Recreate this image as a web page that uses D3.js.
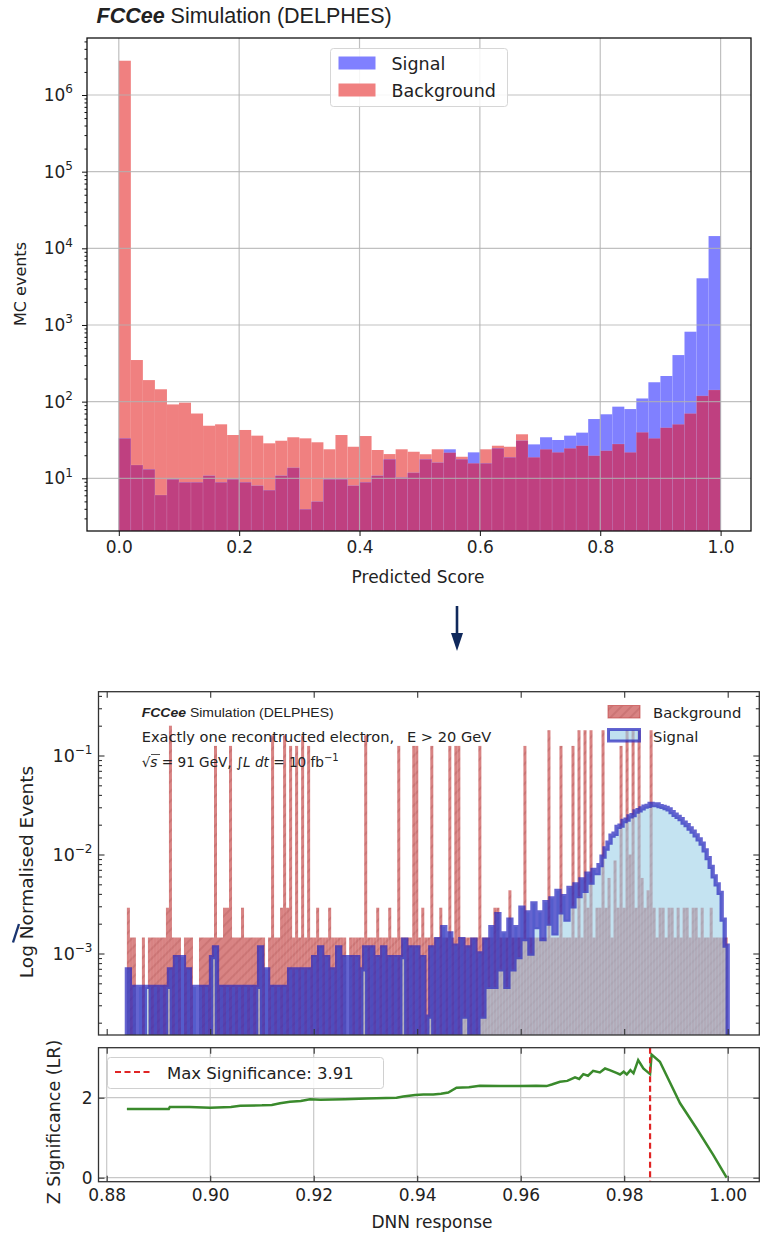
<!DOCTYPE html>
<html>
<head>
<meta charset="utf-8">
<script src="https://cdn.jsdelivr.net/npm/d3@7"></script>
<style>
  body { margin: 0; background: #fff; }
  text { font-family: "DejaVu Sans", sans-serif; fill: #222; }
</style>
</head>
<body>
<div id="chart"></div>
<script>
// ---------------- top plot : predicted score, 50 bins on [0,1] ----------------
var topBinCount = 50;
var topSignal = [33.2, 14.9, 13.1, 6.05, 9.7, 8.87, 8.87, 10.8, 8.87, 9.7,
                 8.87, 8.0, 7.0, 10.8, 13.7, 3.95, 4.96, 9.7, 9.7, 8.0,
                 8.87, 10.8, 17.7, 10.2, 11.8, 17.7, 16, 23.9, 17.7, 21.8,
                 15.7, 24.6, 18.8, 30.9, 27.7, 34.3, 31.6, 36, 39.4, 59.3,
                 68.4, 86, 80, 110, 179, 216, 405, 817, 4065, 14450];
var topBackground = [2.8e6, 349, 191, 145, 92, 97, 70, 48.5, 50.6, 36.7,
                     42.7, 36, 28.6, 30.9, 34.3, 33.2, 29.5, 23.9, 36.7, 25.8,
                     35.6, 23.4, 20.7, 23.9, 22.2, 20.6, 23.9, 21.6, 19.1, 15.7,
                     23.9, 26.6, 25.8, 37.5, 18.8, 23.9, 21.8, 24.6, 26.6, 19.7,
                     22.9, 28, 21.8, 39.8, 33.2, 45.7, 50.6, 70, 119, 142];
var topXTicks = [0, 0.2, 0.4, 0.6, 0.8, 1.0];
var topYTicks = [1e1, 1e2, 1e3, 1e4, 1e5, 1e6];

// ---------------- bottom plot : DNN response, 200 bins ----------------
var dnnRange = [0.8839, 1.0];
// values in units of 1e-3
var dnnSignal = [
  0.69, 0, 0.46, 0, 0.46, 0, 0.46, 0.46, 0, 0.46,
  0, 0.46, 0, 0.46, 0.69, 0, 0.92, 0, 0.92, 0,
  0.69, 0, 0.46, 0, 0.46, 0, 0.46, 0, 0.92, 1.15,
  0, 0.46, 0, 0.46, 0, 0.46, 0, 0.46, 0, 0.46,
  0, 0.46, 0, 0.46, 1.15, 0, 0.69, 0, 0.46, 0,
  0.46, 0, 0.46, 0, 0.69, 0, 0.69, 0, 0.69, 0,
  0.69, 0, 0.92, 0, 1.15, 0, 0.92, 0, 0.69, 0,
  1.15, 0, 0.92, 0, 0.92, 0, 0.92, 0, 0.69, 1.15,
  0, 1.15, 0, 0.92, 0, 1.15, 0, 0.92, 0, 0.92,
  0, 0.92, 1.38, 0, 1.15, 0, 1.15, 0, 0.92, 0,
  0.23, 1.15, 0, 1.4, 0, 1.85, 0, 1.6, 0, 1.2,
  0, 1.4, 0.23, 1.15, 0, 1.38, 0, 1.0, 0.23, 1.38,
  0.46, 1.85, 0.46, 2.5, 0.69, 1.6, 0.46, 2.2, 0.69, 1.85,
  0.92, 2.9, 1.4, 2.6, 1.0, 3.2, 1.85, 2.6, 1.4, 3.3,
  2.0, 3.6, 1.6, 4.3, 2.6, 3.8, 2.2, 4.6, 3.0, 5.0,
  3.8, 5.6, 4.3, 6.4, 5.2, 7.0, 6.5, 7.8, 9.5, 11.5,
  13.2, 15.5, 16.2, 19.0, 19.6, 21.8, 22.5, 24.3, 25.0, 27.2,
  28.0, 29.2, 30.5, 31.0, 32.5, 31.5, 32.0, 30.8, 30.3, 29.5,
  28.5, 26.8, 25.2, 24.0, 22.8, 21.0, 19.8, 18.3, 17.0, 15.6,
  14.2, 12.9, 11.0, 9.2, 7.5, 6.0, 5.0, 4.1, 2.2, 1.2
];
var dnnBackground = [
  2.9, 1.45, 1.45, 0, 0, 1.45, 0, 1.45, 1.45, 1.45,
  1.45, 1.45, 1.45, 2.9, 200, 1.45, 1.45, 1.45, 0, 1.45,
  1.45, 1.45, 0, 0, 1.45, 1.45, 1.45, 1.45, 1.45, 125,
  1.45, 1.45, 2.9, 2.9, 125, 1.45, 1.45, 1.45, 2.9, 1.45,
  1.45, 1.45, 1.45, 1.45, 1.45, 1.45, 0, 1.45, 160, 1.45,
  1.45, 2.9, 160, 2.9, 125, 1.45, 125, 1.45, 160, 1.45,
  125, 1.45, 1.45, 2.9, 1.45, 1.45, 1.45, 2.9, 1.45, 1.45,
  1.45, 1.45, 1.45, 0, 1.45, 1.45, 1.45, 1.45, 1.45, 160,
  1.45, 1.45, 1.45, 2.9, 1.45, 1.45, 1.45, 2.9, 1.45, 1.45,
  125, 1.45, 1.45, 1.45, 1.45, 125, 125, 1.45, 2.9, 1.45,
  1.45, 125, 1.45, 1.45, 2.9, 1.45, 1.45, 125, 1.45, 125,
  125, 1.45, 1.45, 1.45, 1.45, 1.45, 1.45, 125, 1.45, 1.45,
  1.45, 1.45, 2.9, 2.9, 1.45, 1.45, 1.45, 4.35, 1.45, 1.45,
  1.45, 1.45, 125, 1.45, 1.45, 1.45, 1.45, 1.45, 1.45, 1.45,
  180, 1.45, 1.45, 1.45, 125, 1.45, 1.45, 1.45, 125, 1.45,
  180, 1.45, 180, 2.9, 180, 1.45, 2.9, 2.9, 180, 2.9,
  5.8, 1.45, 8.7, 2.9, 125, 2.9, 180, 10, 180, 2.9,
  180, 5.8, 2.9, 4.35, 180, 2.9, 1.45, 2.9, 2.9, 1.45,
  2.9, 2.9, 1.45, 2.9, 1.45, 2.9, 2.9, 1.45, 2.9, 2.9,
  1.45, 2.9, 1.45, 1.45, 2.9, 1.45, 1.45, 1.45, 1.45, 1.45
];
var dnnXTicks = [0.88, 0.90, 0.92, 0.94, 0.96, 0.98, 1.00];
var dnnYTicks = [1e-3, 1e-2, 1e-1];

// significance scan
var zCut = [0.8839, 0.8920, 0.8922, 0.8960, 0.9000, 0.9040, 0.9058, 0.9100, 0.9119, 0.9135,
            0.9154, 0.9175, 0.9193, 0.9213, 0.9260, 0.9302, 0.9340, 0.9360, 0.9373, 0.9396,
            0.9412, 0.9431, 0.9446, 0.9460, 0.9476, 0.9500, 0.9521, 0.9560, 0.9599, 0.9630,
            0.9650, 0.9660, 0.9676, 0.9690, 0.9705, 0.9713, 0.9721, 0.9730, 0.9740, 0.9753,
            0.9763, 0.9772, 0.9785, 0.9792, 0.9799, 0.9805, 0.9812, 0.9818, 0.9827, 0.9837,
            0.9850, 0.9853, 0.9869, 0.9908, 0.9940, 0.9972, 0.9998];
var zValue = [1.72, 1.72, 1.77, 1.77, 1.75, 1.77, 1.80, 1.81, 1.82, 1.86,
              1.90, 1.92, 1.96, 1.95, 1.96, 1.98, 1.99, 2.00, 2.03, 2.07,
              2.08, 2.08, 2.10, 2.13, 2.25, 2.26, 2.30, 2.29, 2.29, 2.30,
              2.29, 2.33, 2.40, 2.42, 2.51, 2.47, 2.59, 2.55, 2.67, 2.63,
              2.73, 2.69, 2.62, 2.58, 2.65, 2.58, 2.69, 2.61, 2.94, 2.73,
              2.59, 3.08, 2.90, 1.86, 1.23, 0.57, 0.00];
var zYTicks = [0, 2];
var maxSigCut = 0.985;
var maxSigValue = 3.91;

// ---------------------------------------------------------------------------
var svg = d3.select("#chart").append("svg")
    .attr("width", 769)
    .attr("height", 1240);

var defs = svg.append("defs");

function supLabel(sel, sizeMain, sizeSup) {
  sel.each(function(d) {
    var t = d3.select(this);
    var p = Math.round(Math.log10(d));
    t.text(null);
    t.append("tspan").attr("font-size", sizeMain).text("10");
    t.append("tspan").attr("font-size", sizeSup).attr("dy", -sizeMain * 0.45)
      .text(p < 0 ? "\u2212" + (-p) : p);
  });
}

function minorLogTicks(lo, hi) {
  var out = [];
  for (var e = Math.floor(Math.log10(lo)); e <= Math.ceil(Math.log10(hi)); e++) {
    for (var m = 2; m <= 9; m++) {
      var v = m * Math.pow(10, e);
      if (v >= lo && v <= hi) out.push(v);
    }
  }
  return out;
}

//////////////////////////////// TOP PLOT ////////////////////////////////
var topBox = {left: 87, right: 751, top: 38, bottom: 531};
var xTop = d3.scaleLinear().domain([0, 1]).range([118.8, 720.6]);
var yTop = d3.scaleLog().domain([10, 1e6]).range([478.3, 95]);

var topData = d3.range(topBinCount).map(function(i) {
  return {x0: i / topBinCount, x1: (i + 1) / topBinCount, s: topSignal[i], b: topBackground[i]};
});

var gTop = svg.append("g");

gTop.selectAll("rect.bkg").data(topData).enter().append("rect")
    .attr("x", function(d) { return xTop(d.x0); })
    .attr("width", function(d) { return xTop(d.x1) - xTop(d.x0); })
    .attr("y", function(d) { return yTop(d.b); })
    .attr("height", function(d) { return topBox.bottom - yTop(d.b); })
    .attr("fill", "#f08080");

gTop.selectAll("rect.sig").data(topData).enter().append("rect")
    .attr("x", function(d) { return xTop(d.x0); })
    .attr("width", function(d) { return xTop(d.x1) - xTop(d.x0); })
    .attr("y", function(d) { return yTop(d.s); })
    .attr("height", function(d) { return topBox.bottom - yTop(d.s); })
    .attr("fill", "#8080ff");

gTop.selectAll("rect.both").data(topData).enter().append("rect")
    .attr("x", function(d) { return xTop(d.x0); })
    .attr("width", function(d) { return xTop(d.x1) - xTop(d.x0); })
    .attr("y", function(d) { return yTop(Math.min(d.s, d.b)); })
    .attr("height", function(d) { return topBox.bottom - yTop(Math.min(d.s, d.b)); })
    .attr("fill", "#bf4080")
    .attr("stroke", "rgba(255,255,255,0.18)")
    .attr("stroke-width", 0.6);

// grid
gTop.selectAll("line.gx").data(topXTicks).enter().append("line")
    .attr("x1", function(d) { return xTop(d); }).attr("x2", function(d) { return xTop(d); })
    .attr("y1", topBox.top).attr("y2", topBox.bottom)
    .attr("stroke", "#b0b0b0").attr("stroke-opacity", 0.8).attr("stroke-width", 1.2);
gTop.selectAll("line.gy").data(topYTicks).enter().append("line")
    .attr("x1", topBox.left).attr("x2", topBox.right)
    .attr("y1", function(d) { return yTop(d); }).attr("y2", function(d) { return yTop(d); })
    .attr("stroke", "#b0b0b0").attr("stroke-opacity", 0.8).attr("stroke-width", 1.2);

gTop.append("rect")
    .attr("x", topBox.left).attr("y", topBox.top)
    .attr("width", topBox.right - topBox.left).attr("height", topBox.bottom - topBox.top)
    .attr("fill", "none").attr("stroke", "#111").attr("stroke-width", 1.3);

var gxTop = gTop.append("g")
    .attr("transform", "translate(0," + topBox.bottom + ")")
    .call(d3.axisBottom(xTop).tickValues(topXTicks).tickFormat(d3.format(".1f"))
      .tickSize(5).tickPadding(5));
gxTop.select(".domain").remove();
gxTop.attr("font-size", 17).attr("font-family", "DejaVu Sans");

var gyTop = gTop.append("g")
    .attr("transform", "translate(" + topBox.left + ",0)")
    .call(d3.axisLeft(yTop).tickValues(topYTicks).tickSize(5).tickPadding(9));
gyTop.select(".domain").remove();
gyTop.attr("font-size", 17).attr("font-family", "DejaVu Sans");
supLabel(gyTop.selectAll("text"), 17, 12);

var gyTopMinor = gTop.append("g")
    .attr("transform", "translate(" + topBox.left + ",0)")
    .call(d3.axisLeft(yTop).tickValues(minorLogTicks(2.1, 5e6)).tickSize(2.5).tickFormat(""));
gyTopMinor.select(".domain").remove();

gTop.selectAll(".tick line").attr("stroke", "#111");

gTop.append("text")
    .attr("transform", "translate(26," + 284 + ") rotate(-90)")
    .attr("text-anchor", "middle").attr("font-size", 16)
    .text("MC events");

gTop.append("text")
    .attr("x", (topBox.left + topBox.right) / 2 - 1).attr("y", 583)
    .attr("text-anchor", "middle").attr("font-size", 17)
    .text("Predicted Score");

var title = gTop.append("text").attr("x", 96.5).attr("y", 23)
    .style("font-family", "'Liberation Sans', Arial, sans-serif").attr("font-size", 21.5);
title.append("tspan").attr("font-weight", "bold").attr("font-style", "italic").text("FCCee");
title.append("tspan").text(" Simulation (DELPHES)");

// legend
var legTop = gTop.append("g");
legTop.append("rect").attr("x", 330.5).attr("y", 48.5).attr("width", 177).attr("height", 58).attr("rx", 3)
    .attr("fill", "#fff").attr("fill-opacity", 0.85).attr("stroke", "#d6d6d6");
legTop.selectAll("rect.key").data([{c: "#8080ff", t: "Signal"}, {c: "#f08080", t: "Background"}])
    .enter().append("rect")
    .attr("x", 338.5).attr("y", function(d, i) { return 56.5 + i * 27; })
    .attr("width", 37).attr("height", 13).attr("fill", function(d) { return d.c; });
legTop.selectAll("text.key").data(["Signal", "Background"]).enter().append("text")
    .attr("x", 391.5).attr("y", function(d, i) { return 69.5 + i * 27; })
    .attr("font-size", 17.5).text(function(d) { return d; });

// arrow between the two figures
var arrowColor = "#10295c";
svg.append("line").attr("x1", 457).attr("x2", 457).attr("y1", 606).attr("y2", 636)
    .attr("stroke", arrowColor).attr("stroke-width", 2.6);
svg.append("path").attr("d", "M451,633 L463,633 L457,651 Z").attr("fill", arrowColor);
svg.append("line").attr("x1", 19).attr("y1", 924).attr("x2", 13).attr("y2", 942.5)
    .attr("stroke", "#1b3570").attr("stroke-width", 2.4);

//////////////////////////////// MIDDLE PLOT ////////////////////////////////
var midBox = {left: 98.5, right: 759.3, top: 691.7, bottom: 1035};
var lowBox = {left: 98.5, right: 759.3, top: 1047.7, bottom: 1181.7};
var xDnn = d3.scaleLinear().domain([0.88, 1.0]).range([106.7, 727.7]);
var yDnn = d3.scaleLog().domain([1e-3, 1e-1]).range([953.5, 755.5]);

var nDnn = dnnSignal.length;
var edges = d3.range(nDnn + 1).map(function(i) { return dnnRange[0] + i * (dnnRange[1] - dnnRange[0]) / nDnn; });
var dnnData = d3.range(nDnn).map(function(i) {
  return {x0: edges[i], x1: edges[i + 1], s: dnnSignal[i] * 1e-3, b: dnnBackground[i] * 1e-3};
});
function yv(v) { return v > 0 ? yDnn(v) : midBox.bottom + 10; }

defs.append("clipPath").attr("id", "midClip").append("rect")
    .attr("x", midBox.left).attr("y", midBox.top)
    .attr("width", midBox.right - midBox.left).attr("height", midBox.bottom - midBox.top);

var hatch = defs.append("pattern").attr("id", "hatch")
    .attr("patternUnits", "userSpaceOnUse").attr("width", 7).attr("height", 7)
    .attr("patternTransform", "rotate(45)");
hatch.append("rect").attr("width", 7).attr("height", 7).attr("fill", "rgb(195,65,65)").attr("fill-opacity", 0.65);
hatch.append("line").attr("x1", 1).attr("x2", 1).attr("y1", 0).attr("y2", 7)
    .attr("stroke", "rgb(130,40,40)").attr("stroke-opacity", 0.3).attr("stroke-width", 1);

var gMid = svg.append("g").attr("clip-path", "url(#midClip)");

gMid.selectAll("rect.bkg").data(dnnData.filter(function(d) { return d.b > 0; })).enter().append("rect")
    .attr("x", function(d) { return xDnn(d.x0); })
    .attr("width", function(d) { return xDnn(d.x1) - xDnn(d.x0); })
    .attr("y", function(d) { return yDnn(d.b); })
    .attr("height", function(d) { return midBox.bottom - yDnn(d.b); })
    .attr("fill", "url(#hatch)");

// step outline points of the signal histogram
var stepPts = [[xDnn(edges[0]), midBox.bottom + 10]];
dnnData.forEach(function(d) {
  stepPts.push([xDnn(d.x0), yv(d.s)]);
  stepPts.push([xDnn(d.x1), yv(d.s)]);
});
stepPts.push([xDnn(edges[nDnn]), midBox.bottom + 10]);

gMid.append("path")
    .attr("d", d3.area().x(function(p) { return p[0]; }).y0(midBox.bottom + 10).y1(function(p) { return p[1]; })(stepPts))
    .attr("fill", "rgb(150,205,230)").attr("fill-opacity", 0.56);

gMid.append("path")
    .attr("d", d3.line()(stepPts))
    .attr("fill", "none").attr("stroke", "rgb(40,40,190)").attr("stroke-opacity", 0.72)
    .attr("stroke-width", 4.3).attr("stroke-linejoin", "miter");

var gMidAx = svg.append("g");
gMidAx.append("rect")
    .attr("x", midBox.left).attr("y", midBox.top)
    .attr("width", midBox.right - midBox.left).attr("height", midBox.bottom - midBox.top)
    .attr("fill", "none").attr("stroke", "#333").attr("stroke-width", 1.3);

function inwardAxes(g, box, xs, ys, yTicks, yMinor, xLabels, labelSize) {
  var b = g.append("g").attr("transform", "translate(0," + box.bottom + ")")
      .call(d3.axisBottom(xs).tickValues(dnnXTicks).tickSizeInner(-6).tickSizeOuter(0).tickPadding(7)
        .tickFormat(xLabels ? d3.format(".2f") : ""));
  b.select(".domain").remove();
  b.attr("font-size", labelSize).attr("font-family", "DejaVu Sans");
  var t = g.append("g").attr("transform", "translate(0," + box.top + ")")
      .call(d3.axisTop(xs).tickValues(dnnXTicks).tickSizeInner(-6).tickSizeOuter(0).tickFormat(""));
  t.select(".domain").remove();
  var l = g.append("g").attr("transform", "translate(" + box.left + ",0)")
      .call(d3.axisLeft(ys).tickValues(yTicks).tickSizeInner(-6).tickSizeOuter(0).tickPadding(6)
        .tickFormat(d3.format("d")));
  l.select(".domain").remove();
  l.attr("font-size", labelSize).attr("font-family", "DejaVu Sans");
  var r = g.append("g").attr("transform", "translate(" + box.right + ",0)")
      .call(d3.axisRight(ys).tickValues(yTicks).tickSizeInner(-6).tickSizeOuter(0).tickFormat(""));
  r.select(".domain").remove();
  if (yMinor) {
    [[d3.axisLeft, box.left], [d3.axisRight, box.right]].forEach(function(a) {
      var m = g.append("g").attr("transform", "translate(" + a[1] + ",0)")
          .call(a[0](ys).tickValues(yMinor).tickSizeInner(-3.5).tickSizeOuter(0).tickFormat(""));
      m.select(".domain").remove();
    });
  }
  g.selectAll(".tick line").attr("stroke", "#333").attr("stroke-width", 1.1);
  return l;
}

var midYAxis = inwardAxes(gMidAx, midBox, xDnn, yDnn, dnnYTicks, minorLogTicks(1.6e-4, 0.43), false, 17.5);
supLabel(midYAxis.selectAll("text"), 17.5, 12);

gMidAx.append("text")
    .attr("transform", "translate(33,872) rotate(-90)")
    .attr("text-anchor", "middle").attr("font-size", 18.5)
    .text("Log Normalised Events");

// annotations
var ann1 = gMidAx.append("text").attr("x", 141.7).attr("y", 717)
    .style("font-family", "'Liberation Sans', Arial, sans-serif").attr("font-size", 12)
    .attr("textLength", 192).attr("lengthAdjust", "spacingAndGlyphs");
ann1.append("tspan").attr("font-weight", "bold").attr("font-style", "italic").text("FCCee");
ann1.append("tspan").text(" Simulation (DELPHES)");

gMidAx.append("text").attr("x", 141.7).attr("y", 741.5).attr("font-size", 14.6)
    .text("Exactly one recontructed electron,");
gMidAx.append("text").attr("x", 407).attr("y", 741.5).attr("font-size", 14.6)
    .text("E > 20 GeV");

var ann3 = gMidAx.append("text").attr("x", 141.7).attr("y", 766.5).attr("font-size", 13.6);
ann3.append("tspan").text("\u221A");
ann3.append("tspan").attr("font-style", "italic").text("s");
ann3.append("tspan").text(" = 91 GeV, \u222B");
ann3.append("tspan").attr("font-style", "italic").text("L dt");
ann3.append("tspan").text(" = 10 fb");
ann3.append("tspan").attr("font-size", 10).attr("dy", -5.5).text("\u22121");
gMidAx.append("line").attr("x1", 151).attr("x2", 160).attr("y1", 754.5).attr("y2", 754.5)
    .attr("stroke", "#222").attr("stroke-width", 0.8);

// legend (middle)
var legMid = gMidAx.append("g");
legMid.append("rect").attr("x", 608).attr("y", 705.5).attr("width", 32).attr("height", 12.5)
    .attr("fill", "url(#hatch)").attr("stroke", "rgb(195,65,65)").attr("stroke-opacity", 0.65);
legMid.append("rect").attr("x", 608.5).attr("y", 729.5).attr("width", 31).attr("height", 11.5)
    .attr("fill", "rgb(150,205,230)").attr("fill-opacity", 0.6)
    .attr("stroke", "rgb(40,40,190)").attr("stroke-opacity", 0.72).attr("stroke-width", 3);
legMid.selectAll("text.key").data(["Background", "Signal"]).enter().append("text")
    .attr("x", 653).attr("y", function(d, i) { return 717.5 + i * 24; })
    .attr("font-size", 14.8).text(function(d) { return d; });

//////////////////////////////// LOWER PLOT ////////////////////////////////
var yZ = d3.scaleLinear().domain([0, 2]).range([1177.7, 1097.7]);
var gLow = svg.append("g");

gLow.selectAll("line.gx").data(dnnXTicks).enter().append("line")
    .attr("x1", function(d) { return xDnn(d); }).attr("x2", function(d) { return xDnn(d); })
    .attr("y1", lowBox.top).attr("y2", lowBox.bottom)
    .attr("stroke", "#c8c8c8").attr("stroke-width", 1.2);
gLow.selectAll("line.gy").data(zYTicks).enter().append("line")
    .attr("x1", lowBox.left).attr("x2", lowBox.right)
    .attr("y1", function(d) { return yZ(d); }).attr("y2", function(d) { return yZ(d); })
    .attr("stroke", "#c8c8c8").attr("stroke-width", 1.2);

gLow.append("path")
    .datum(d3.zip(zCut, zValue))
    .attr("d", d3.line().x(function(d) { return xDnn(d[0]); }).y(function(d) { return yZ(d[1]); }))
    .attr("fill", "none").attr("stroke", "#3a8a2c").attr("stroke-width", 2.5);

gLow.append("line")
    .attr("x1", xDnn(maxSigCut)).attr("x2", xDnn(maxSigCut))
    .attr("y1", lowBox.top).attr("y2", lowBox.bottom)
    .attr("stroke", "#e02424").attr("stroke-width", 2.2).attr("stroke-dasharray", "6,3.5");

gLow.append("rect")
    .attr("x", lowBox.left).attr("y", lowBox.top)
    .attr("width", lowBox.right - lowBox.left).attr("height", lowBox.bottom - lowBox.top)
    .attr("fill", "none").attr("stroke", "#333").attr("stroke-width", 1.3);

inwardAxes(gLow, lowBox, xDnn, yZ, zYTicks, null, true, 17);

gLow.append("text")
    .attr("transform", "translate(60,1122) rotate(-90)")
    .attr("text-anchor", "middle").attr("font-size", 17.5)
    .text("Z Significance (LR)");
gLow.append("text")
    .attr("x", 432).attr("y", 1228).attr("text-anchor", "middle").attr("font-size", 17)
    .text("DNN response");

// legend (lower)
var legLow = gLow.append("g");
legLow.append("rect").attr("x", 107.5).attr("y", 1057.5).attr("width", 276).attr("height", 31).attr("rx", 3)
    .attr("fill", "#fff").attr("fill-opacity", 0.85).attr("stroke", "#d0d0d0");
legLow.append("line").attr("x1", 115).attr("x2", 152).attr("y1", 1072).attr("y2", 1072)
    .attr("stroke", "#e02424").attr("stroke-width", 2.2).attr("stroke-dasharray", "6,3.5");
legLow.append("text").attr("x", 167).attr("y", 1078.5).attr("font-size", 16.5)
    .text("Max Significance: " + d3.format(".2f")(maxSigValue));
</script>
</body>
</html>
